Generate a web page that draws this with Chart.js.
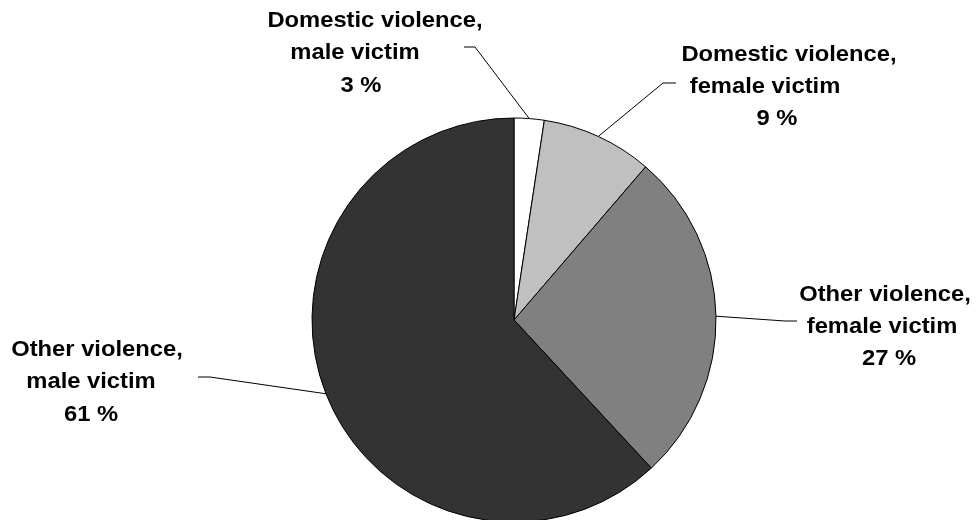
<!DOCTYPE html>
<html>
<head>
<meta charset="utf-8">
<script src="https://cdn.jsdelivr.net/npm/chart.js@4/dist/chart.umd.min.js"></script>
<style>
  html, body { margin: 0; padding: 0; background: #ffffff; }
  #wrap { width: 977px; height: 520px; }
</style>
</head>
<body>
<div id="wrap"><canvas id="c" width="977" height="520"></canvas></div>
<script>
// ---- data ----
const categories = [
  ['Domestic violence,', 'male victim'],
  ['Domestic violence,', 'female victim'],
  ['Other violence,', 'female victim'],
  ['Other violence,', 'male victim']
];
const shares = [2.4, 8.9, 26.8, 61.9];            // slice sizes as drawn
const percentLabels = ['3 %', '9 %', '27 %', '61 %']; // printed labels
const sliceColors = ['#ffffff', '#c0c0c0', '#808080', '#333333'];

// ---- label layout (positions only) ----
const labelLayout = [
  { baseY: 27,    lineXs: [375, 355, 361], elbow: [475, 47],  end: [464, 47] },
  { baseY: 60.5,  lineXs: [789, 765, 777], elbow: [663, 83],  end: [676, 83] },
  { baseY: 300.5, lineXs: [885, 882, 889], elbow: [785, 321], end: [797, 321] },
  { baseY: 356,   lineXs: [97, 91, 91],    elbow: [210, 377], end: [198, 377] }
];
const lineGap = 32.3;
const textStretch = 1.08;

const labelPlugin = {
  id: 'pieLabels',
  afterDatasetsDraw(chart) {
    const ctx = chart.ctx;
    const meta = chart.getDatasetMeta(0);
    meta.data.forEach((arc, i) => {
      const p = arc.getProps(['x', 'y', 'startAngle', 'endAngle', 'outerRadius'], true);
      const mid = (p.startAngle + p.endAngle) / 2;
      const sx = p.x + Math.cos(mid) * p.outerRadius;
      const sy = p.y + Math.sin(mid) * p.outerRadius;
      const L = labelLayout[i];
      ctx.save();
      ctx.beginPath();
      ctx.strokeStyle = '#000000';
      ctx.lineWidth = 1;
      ctx.moveTo(sx, sy);
      ctx.lineTo(L.elbow[0], L.elbow[1]);
      ctx.lineTo(L.end[0], L.end[1]);
      ctx.stroke();
      ctx.restore();

      const lines = categories[i].concat([percentLabels[i]]);
      lines.forEach((t, k) => {
        ctx.save();
        ctx.translate(L.lineXs[k], L.baseY + k * lineGap);
        ctx.scale(textStretch, 1);
        ctx.fillStyle = '#000000';
        ctx.font = 'bold 22px "Liberation Sans", Arial, sans-serif';
        ctx.textAlign = 'center';
        ctx.textBaseline = 'alphabetic';
        ctx.fillText(t, 0, 0);
        ctx.restore();
      });
    });
  }
};

new Chart(document.getElementById('c'), {
  type: 'pie',
  data: {
    labels: categories.map(c => c.join(' ')),
    datasets: [{
      data: shares,
      backgroundColor: sliceColors,
      borderColor: '#000000',
      borderWidth: 1,
      radius: 202
    }]
  },
  options: {
    responsive: false,
    devicePixelRatio: 1,
    animation: false,
    layout: { padding: { top: 120, left: 51, right: 0, bottom: 0 } },
    plugins: {
      legend: { display: false },
      tooltip: { enabled: false }
    }
  },
  plugins: [labelPlugin]
});
</script>
</body>
</html>
